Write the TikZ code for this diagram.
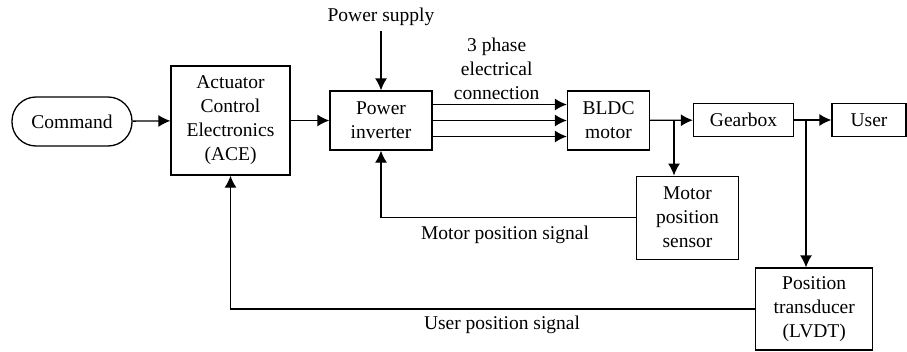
\documentclass[tikz,border=0pt]{standalone}
\usepackage{fontspec}
\setmainfont{Liberation Serif}
\usetikzlibrary{arrows.meta,positioning,calc}
\tikzset{
  blk/.style={draw,rectangle,line width=1.3pt,align=center,inner sep=0pt},
  cmdblk/.style={blk,rounded corners=24pt},
  arr/.style={line width=1.3pt,-{Latex[length=12pt,width=12pt]}},
  lbl/.style={align=center,inner sep=0pt}
}

\begin{document}
\begin{tikzpicture}[x=1pt,y=-1pt,every node/.style={font=\rmfamily\fontsize{19.5}{24}\selectfont}]
  \useasboundingbox (0,0) rectangle (907,351);
  % Main blocks
  \node[cmdblk, minimum width=120pt, minimum height=49pt] (cmd) at (72,121.5) {Command};
  \node[blk, minimum width=119pt, minimum height=109pt] (ace) at (230.5,120.5) {Actuator\\Control\\Electronics\\(ACE)};
  \node[blk, minimum width=102pt, minimum height=59pt] (inv) at (381,120.5) {Power\\inverter};
  \node[blk, minimum width=82pt, minimum height=59pt] (bldc) at (608.5,120.5) {BLDC\\motor};
  \node[blk, minimum width=100pt, minimum height=33pt] (gear) at (743.5,120) {Gearbox};
  \node[blk, minimum width=74pt, minimum height=33pt] (user) at (869,120) {User};

  % Sensors
  \node[blk, minimum width=102pt, minimum height=83pt] (mps) at (687.5,217.7) {Motor\\position\\sensor};
  \node[blk, minimum width=117pt, minimum height=82pt] (pt) at (814.2,309) {Position\\transducer\\(LVDT)};

  % Labels
  \node[lbl] (ps) at (381,17) {Power supply};
  \node[lbl] (phase) at (496.7,69) {3 phase\\electrical\\connection};
  \node[lbl] (mpsig) at (505,235) {Motor position signal};
  \node[lbl] (upsig) at (502,325) {User position signal};

  % Forward path
  \draw[arr] (cmd) -- (ace);
  \draw[arr] (ace) -- (inv);
  \draw[arr, shorten <=5pt] (ps.south) -- (inv.north);
  \foreach \dy in {-16,0,16}
    \draw[arr] ($(inv.east)+(0,\dy)$) -- ($(bldc.west)+(0,\dy)$);
  \draw[arr] (bldc) -- (gear);
  \draw[arr] (gear) -- (user);

  % Branches to sensors
  \coordinate (b1) at (674,120);
  \coordinate (b2) at (806,120);
  \draw[arr] (b1) -- (b1 |- mps.north);
  \draw[arr] (b2) -- (b2 |- pt.north);

  % Feedback signals
  \draw[arr] (mps.west) -| (inv.south);
  \draw[arr] (pt.west) -| (ace.south);

\end{tikzpicture}
\end{document}
